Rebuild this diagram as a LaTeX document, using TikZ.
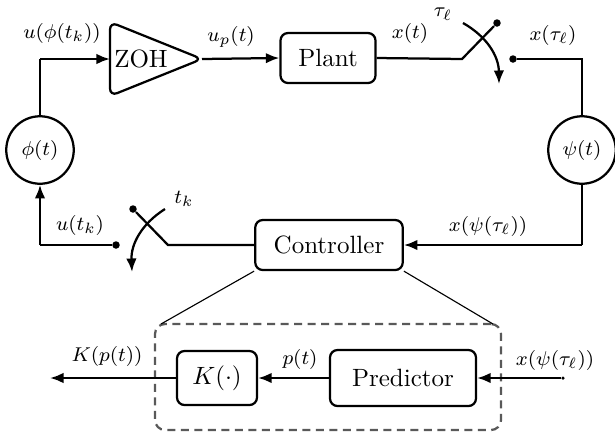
\documentclass[tikz,border=0pt]{standalone}
\usetikzlibrary{arrows.meta}
\begin{document}
\begin{tikzpicture}[x=0.4pt,y=-0.4pt,
  blk/.style={draw,line width=0.9pt,rounded corners=3pt,minimum height=20pt,inner sep=0pt},
  circ/.style={circle,draw,line width=0.9pt,minimum size=27pt,inner sep=0pt,font=\fontsize{8.5}{10}\selectfont},
  sig/.style={line width=0.9pt},
  arr/.style={line width=0.9pt,-{Latex[length=5.4pt,width=4.2pt]}},
  lbl/.style={font=\fontsize{8.3}{10}\selectfont,inner sep=0pt},
  dotc/.style={circle,fill,inner sep=0pt,minimum size=3pt},
  tinydot/.style={circle,fill,inner sep=0pt,minimum size=1.4pt},
  dbx/.style={draw=black!65,line width=0.9pt,dash pattern=on 3.2pt off 2.2pt,rounded corners=4pt,inner sep=0pt},
  ]
\useasboundingbox (0,0) rectangle (615,435);

% blocks
\node[blk,minimum width=38pt] (plant) at (328,58) {Plant};
\node[blk,minimum width=59pt] (ctrl) at (329,245) {Controller};
\node[blk,minimum width=32pt,minimum height=21.6pt] (K) at (217,378) {$K(\cdot)$};
\node[blk,minimum width=58.4pt,minimum height=22.4pt] (pred) at (403,378) {Predictor};
\node[circ] (phi) at (40,150) {$\phi(t)$};
\node[circ] (psi) at (582,150) {$\psi(t)$};
\node[dbx,minimum width=138.4pt,minimum height=42.4pt] (dbox) at (328,377) {};

% ZOH triangle
\draw[line width=0.9pt,rounded corners=3pt] (110,22) -- (202,59) -- (110,96) -- cycle;
\node (zoh) at (141,59) {ZOH};
\coordinate (zohin) at (110,59);
\coordinate (zohout) at (202,59);

% top-left
\coordinate (tl) at (40,59);
\draw[sig] (phi.north) -- (tl);
\draw[arr] (tl) -- (zohin);
\node[lbl] (l1) at (62,33) {$u(\phi(t_k))$};
\draw[arr] (zohout) -- (plant.west);
\node[lbl] (l2) at (231,37) {$u_p(t)$};

% top switch
\coordinate (s1a) at (462,59);
\node[dotc] (s1b) at (497,23) {};
\coordinate (a1s) at (463,23);
\coordinate (a1e) at (499,84);
\draw[sig] (plant.east) -- (s1a) -- (s1b);
\draw[arr] (a1s) to[bend left=30] (a1e);
\node[lbl] (l3) at (443,14) {$\tau_\ell$};
\node[lbl] (l4) at (410,33) {$x(t)$};
\node[dotc] (d1) at (513,59) {};
\coordinate (tr) at (582,59);
\draw[sig] (d1) -- (tr) -- (psi.north);
\node[lbl] (l5) at (553,35) {$x(\tau_\ell)$};

% right side
\coordinate (br) at (582,245);
\draw[sig] (psi.south) -- (br);
\draw[arr] (br) -- (ctrl.east);
\node[lbl] (l6) at (488,226) {$x(\psi(\tau_\ell))$};

% bottom switch
\coordinate (s2a) at (168,245);
\node[dotc] (s2b) at (133,209) {};
\coordinate (a2s) at (165,209);
\coordinate (a2e) at (132,272);
\draw[sig] (ctrl.west) -- (s2a) -- (s2b);
\draw[arr] (a2s) to[bend right=30] (a2e);
\node[lbl] (l7) at (184,199) {$t_k$};
\node[dotc] (d2) at (116,245) {};
\coordinate (bl) at (40,245);
\draw[sig] (d2) -- (bl);
\draw[arr] (bl) -- (phi.south);
\node[lbl] (l8) at (80,225) {$u(t_k)$};

% zoom lines
\coordinate (zl) at (161,324);
\coordinate (zr) at (493,324);
\draw[line width=0.45pt] (ctrl.south west) -- (zl);
\draw[line width=0.45pt] (ctrl.south east) -- (zr);

% bottom chain
\node[tinydot] (d3) at (563,378) {};
\draw[arr] (d3) -- (pred.east);
\node[lbl] (l9) at (555,360) {$x(\psi(\tau_\ell))$};
\draw[arr] (pred.west) -- (K.east);
\node[lbl] (l10) at (300,359) {$p(t)$};
\coordinate (kout) at (50,378);
\draw[arr] (K.west) -- (kout);
\node[lbl] (l11) at (107,356) {$K(p(t))$};
\end{tikzpicture}
\end{document}
